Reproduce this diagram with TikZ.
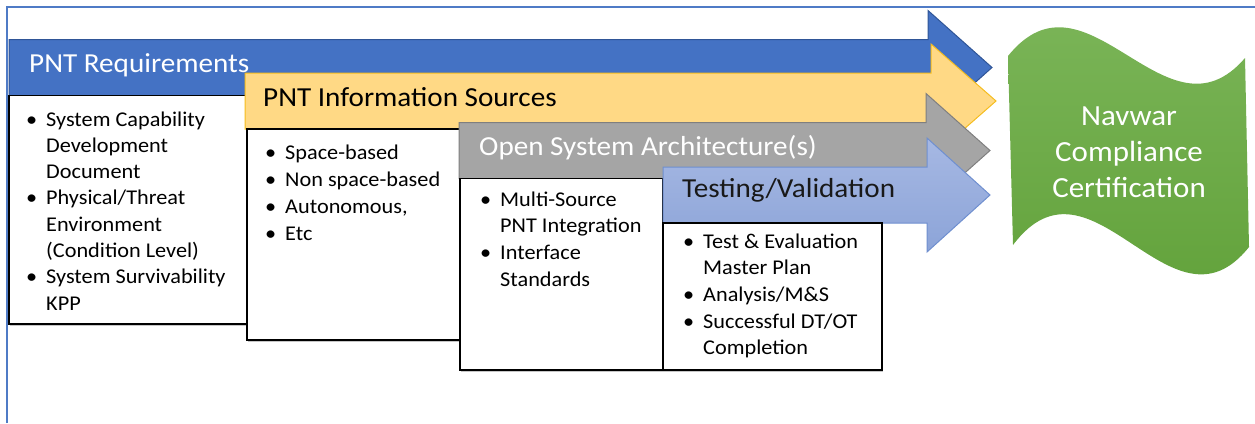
\documentclass[tikz,border=0pt]{standalone}
\usepackage{fontspec}
\setmainfont{Carlito}[FakeStretch=1.06]
\usetikzlibrary{shadows}

\definecolor{frameblue}{HTML}{4F7BC6}
\definecolor{reqblue}{HTML}{4472C4}
\definecolor{reqedge}{HTML}{2F5597}
\definecolor{srcyellow}{HTML}{FFD985}
\definecolor{srcedge}{HTML}{F5BD1F}
\definecolor{osagray}{HTML}{A5A5A5}
\definecolor{osaedge}{HTML}{7F7F7F}
\definecolor{testtop}{HTML}{A6B8E3}
\definecolor{testbot}{HTML}{8CA4D8}
\definecolor{testedge}{HTML}{6F8FCF}
\definecolor{wavetop}{HTML}{7FB85D}
\definecolor{wavebot}{HTML}{5E9F36}

\newcommand{\blt}{\leavevmode\llap{\textbullet\hspace{9pt}}}
\newcommand{\flowarrow}[5]{%
  \draw[#1] (#2,#3-28) -- (#4,#3-28) -- (#4,#3-57) -- (#5,#3)
    -- (#4,#3+57) -- (#4,#3+28) -- (#2,#3+28) -- cycle;}

\begin{document}
\begin{tikzpicture}[x=1pt, y=-1pt,
    frame/.style={draw=frameblue, line width=1.3pt},
    box/.style={draw=black, line width=1.3pt, fill=white,
      drop shadow={shadow xshift=1pt, shadow yshift=-1.5pt, opacity=.45}},
    head/.style={anchor=base west, inner sep=0, font=\fontsize{27.5}{33}\selectfont},
    items/.style={anchor=base west, inner sep=0, text=black, font=\fontsize{21}{#1}\selectfont},
    items/.default=26.5]
    \useasboundingbox (0,0) rectangle (1255,423);
    \draw[frame] (7,423) -- (7,7) -- (1255,7);

    \flowarrow{draw=reqedge, fill=reqblue, line width=1pt}{9}{67.5}{928}{992}
    \node[head, text=white] (req) at (29,72) {PNT Requirements};
    \draw[box] (9,95.5) rectangle (247,324);
    \node[items=26.3] (reqlist) at (46,126) {\parbox[t]{200pt}{%
      \blt System Capability\\Development\\Document\\
      \blt Physical/Threat\\Environment\\(Condition Level)\\
      \blt System Survivability\\KPP}};

    \flowarrow{draw=srcedge, fill=srcyellow, line width=1pt}{245}{101}{931}{996}
    \node[head, text=black] (src) at (263,106) {PNT Information Sources};
    \draw[box] (247,129) rectangle (460,340);
    \node[items=27] (srclist) at (285,159) {\parbox[t]{170pt}{%
      \blt Space-based\\\blt Non space-based\\\blt Autonomous,\\\blt Etc}};

    \flowarrow{draw=osaedge, fill=osagray, line width=1pt}{459}{150.5}{926}{990}
    \node[head, text=white] (osa) at (479,155) {Open System Architecture(s)};
    \draw[box] (460,178.5) rectangle (663,370);
    \node[items=26.7] (osalist) at (500,206) {\parbox[t]{160pt}{%
      \blt Multi-Source\\PNT Integration\\\blt Interface\\Standards}};

    \flowarrow{draw=testedge, top color=testtop, bottom color=testbot, line width=1pt}{663}{195}{927}{990}
    \node[head, text=black!90] (test) at (682,197) {Testing/Validation};
    \draw[box] (663,223) rectangle (882,370);
    \node[items=26.7] (testlist) at (703,248) {\parbox[t]{175pt}{%
      \blt Test \& Evaluation\\Master Plan\\\blt Analysis/M\&S\\
      \blt Successful DT/OT\\Completion}};

    \shade[top color=wavetop, bottom color=wavebot]
      (1008,56) .. controls (1087,-42) and (1166,150) .. (1245,58)
      -- (1249,247) .. controls (1171,345) and (1092,140) .. (1013,245) -- cycle;
    \node[anchor=base, inner sep=0, text=white, font=\fontsize{29.2}{36}\selectfont]
      (cert) at (1129,125) {\parbox[t]{200pt}{\centering Navwar\\Compliance\\Certification}};
\end{tikzpicture}
\end{document}
